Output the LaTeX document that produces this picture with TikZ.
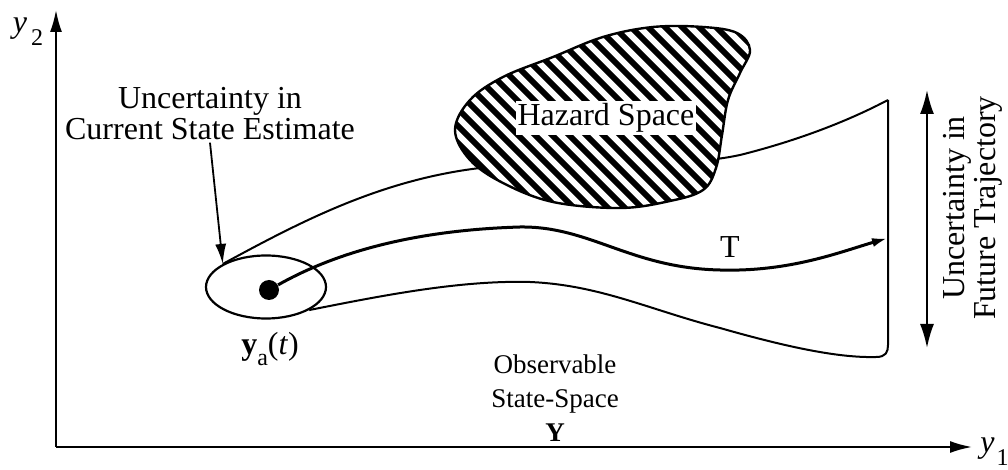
\documentclass[tikz,border=0pt]{standalone}
\usepackage{fontspec}
\setmainfont{Liberation Serif}
\usetikzlibrary{positioning,calc}
\usetikzlibrary{arrows.meta,shapes.geometric}
\tikzset{
  axis/.style={draw=black,line width=1pt,-{Latex[length=11pt,width=6pt]}},
  bound/.style={draw=black,line width=1pt},
  traj/.style={draw=black,line width=1.5pt,-{Latex[length=8pt,width=4.5pt]}},
  ptr/.style={draw=black,line width=0.9pt,-{Latex[length=10pt,width=5.5pt]}},
  spread/.style={draw=black,line width=1pt,{Latex[length=12pt,width=7pt]}-{Latex[length=12pt,width=7pt]}},
  bigtxt/.style={font=\fontsize{16}{15.5}\selectfont,align=center,inner sep=1pt},
  smalltxt/.style={font=\fontsize{13.5}{17}\selectfont,align=center,inner sep=1pt},
  axtxt/.style={font=\fontsize{16}{16}\selectfont,inner sep=0pt},
  hatch/.style={line width=2.9pt},
}
\tikzset{dot/.style={circle,fill=black,inner sep=0pt,minimum size=10pt}, est/.style={ellipse,draw=black,line width=1.1pt,inner sep=0pt,minimum width=60pt,minimum height=31.5pt}}

\begin{document}
\begin{tikzpicture}[x=0.5pt,y=-0.5pt]
\useasboundingbox (0,0) rectangle (1008,470);
\coordinate (o) at (56,447);
\coordinate (ytop) at (56,10);
\coordinate (xend) at (972,447);
\coordinate (tr) at (888,100);
\coordinate (tend) at (888,238);
\coordinate (sptop) at (927,90);
\coordinate (spbot) at (927,348);
% axes
\draw[axis] (o)--(ytop);
\draw[axis] (o)--(xend);
\node[axtxt] (ylab2) at (28,32) {\textit{y}\kern2pt\raisebox{-0.9ex}{\fontsize{12}{12}\selectfont 2}};
\node[axtxt,anchor=west] (ylab1) at (980,452) {\textit{y}\kern1pt\raisebox{-0.9ex}{\fontsize{12}{12}\selectfont 1}};
% current estimate
\node[est] (est) at (266,287) {};
\node[dot] (ya) at (269,290) {};
% envelope of future trajectories
\draw[bound] (est.north west) .. controls (300,222) and (380,180) .. (480,168)
  .. controls (600,160) and (680,168) .. (740,155) .. controls (800,140) and (850,120) .. (tr);
\draw[bound] (est.south east) .. controls (380,296) and (460,280) .. (530,282)
  .. controls (600,285) and (650,310) .. (720,328) .. controls (790,348) and (840,358) .. (876,357)
  .. controls (886,357) and (888,352) .. (888,345) -- (tr);
\draw[traj] (ya) .. controls (340,250) and (420,230) .. (520,227)
  .. controls (590,226) and (630,268) .. (720,270) .. controls (790,272) and (840,252) .. (tend);
% hazard region
\def\blob{plot[smooth cycle,tension=0.6] coordinates {(455,130) (470,100) (503,77) (553,57) (603,37) (653,27) (703,27) (737,33) (750,50) (740,73) (728,100) (722,135) (716,168) (703,190) (670,201) (620,208) (553,202) (503,183) (470,160)}}
\fill[white] \blob;
\begin{scope}
\clip \blob;
\foreach \s in {230,247,...,750} \draw[hatch] (\s,0) -- ++(260,260);
\end{scope}
\draw[line width=1.2pt] \blob;
\node[bigtxt,fill=white] (haz) at (606,118) {Hazard Space};
% labels
\node[bigtxt] (estlbl) at (210,114) {Uncertainty in\\Current State Estimate};
\draw[ptr] (estlbl.south) -- (est.north west);
\node[bigtxt] (yalbl) at (270,349) {\textbf{y}\raisebox{-0.8ex}{\fontsize{12}{12}\selectfont a}(\textit{t})};
\node[bigtxt] (tlbl) at (730,247) {T};
\node[smalltxt] (obs) at (555,398) {Observable\\State-Space\\\textbf{Y}};
\draw[spread] (sptop)--(spbot);
\node[bigtxt,rotate=90] (futlbl) at (973,208) {Uncertainty in\\Future Trajectory};
\end{tikzpicture}
\end{document}
